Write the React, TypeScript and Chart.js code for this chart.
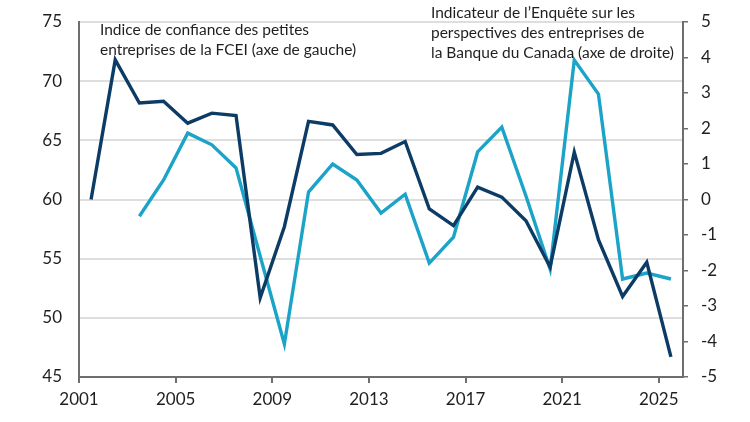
import { useEffect, useRef } from "react"
import { Chart, registerables } from "chart.js"

Chart.register(...registerables)

const years = [
  2001, 2002, 2003, 2004, 2005, 2006, 2007, 2008, 2009, 2010, 2011, 2012, 2013,
  2014, 2015, 2016, 2017, 2018, 2019, 2020, 2021, 2022, 2023, 2024, 2025,
]

// Indice de confiance des petites entreprises de la FCEI (axe de gauche)
const cfibIndex = [
  60.0, 71.8, 68.15, 68.3, 66.45, 67.3, 67.1, 51.7, 57.7, 66.6, 66.3, 63.8, 63.9,
  64.9, 59.2, 57.8, 61.05, 60.2, 58.2, 54.3, 64.0, 56.6, 51.8, 54.7, 46.7,
]

// Indicateur de l'EPE de la Banque du Canada (axe de droite)
const bosIndicator = [
  null, null, -0.47, 0.55, 1.87, 1.54, 0.89, -1.6, -4.07, 0.21, 1.0, 0.55, -0.38,
  0.15, -1.79, -1.06, 1.34, 2.04, 0.1, -1.96, 3.93, 2.97, -2.24, -2.07, -2.24,
]

const xTicks = [2001, 2005, 2009, 2013, 2017, 2021, 2025]

const leftLabel = ["Indice de confiance des petites", "entreprises de la FCEI (axe de gauche)"]
const rightLabel = [
  "Indicateur de l\u2019Enquête sur les",
  "perspectives des entreprises de",
  "la Banque du Canada (axe de droite)",
]

const DARK = "#0c3c66"
const LIGHT = "#1ba3c8"
const AXIS = "#6e6e6e"
const GRID = "#dedede"
const TEXT = "#1f1f1f"
const FONT = "Lato, 'Open Sans', sans-serif"

export default function App() {
  const chartRef = useRef<HTMLCanvasElement>(null)
  const chartInstance = useRef<Chart | null>(null)

  useEffect(() => {
    document.body.style.margin = "0"
    if (!chartRef.current) return
    const ctx = chartRef.current.getContext("2d")
    if (!ctx) return

    const labelsPlugin = {
      id: "seriesLabels",
      afterDraw(chart: Chart) {
        const c = chart.ctx
        c.save()
        c.fillStyle = TEXT
        c.font = `15.5px ${FONT}`
        c.textBaseline = "middle"
        c.textAlign = "left"
        leftLabel.forEach((line, i) => c.fillText(line, 100, 30 + i * 19.5))
        rightLabel.forEach((line, i) => c.fillText(line, 431, 13 + i * 20))
        c.restore()
      },
    }

    // keep the plot area fixed: no extra room for half-labels at the ends
    const noOverflow = (scale: any) => {
      scale.paddingTop = 0
      scale.paddingBottom = 0
    }

    chartInstance.current = new Chart(ctx, {
      type: "line",
      data: {
        datasets: [
          {
            label: "FCEI",
            data: years.map((y, i) => ({ x: y + 0.5, y: cfibIndex[i] })),
            borderColor: DARK,
            borderWidth: 3.4,
            pointRadius: 0,
            tension: 0,
            yAxisID: "y",
          },
          {
            label: "EPE",
            data: years.map((y, i) => ({ x: y + 0.5, y: bosIndicator[i] })),
            borderColor: LIGHT,
            borderWidth: 3.4,
            pointRadius: 0,
            tension: 0,
            yAxisID: "y1",
          },
        ],
      },
      options: {
        responsive: false,
        animation: false,
        layout: { padding: { top: 22 } },
        plugins: {
          legend: { display: false },
          tooltip: { enabled: false },
        },
        scales: {
          x: {
            type: "linear",
            min: 2001,
            max: 2026,
            afterBuildTicks: (scale) => {
              scale.ticks = xTicks.map((v) => ({ value: v }))
            },
            afterFit: (scale) => {
              scale.height = 45
            },
            border: { display: true, color: AXIS, width: 2 },
            grid: {
              drawOnChartArea: false,
              drawTicks: true,
              tickLength: 6,
              color: AXIS,
              lineWidth: 2,
            },
            ticks: {
              color: TEXT,
              font: { family: FONT, size: 17 },
              padding: 6,
              maxRotation: 0,
              callback: (v) => String(v),
            },
          },
          y: {
            position: "left",
            min: 45,
            max: 75,
            afterFit: (scale) => {
              scale.width = 79
              noOverflow(scale)
            },
            border: { display: true, color: AXIS, width: 2 },
            grid: { color: GRID, lineWidth: 2, drawTicks: false },
            ticks: {
              stepSize: 5,
              color: TEXT,
              font: { family: FONT, size: 17 },
              padding: 17,
            },
          },
          y1: {
            position: "right",
            min: -5,
            max: 5,
            afterFit: (scale) => {
              scale.width = 67
              noOverflow(scale)
            },
            border: { display: true, color: AXIS, width: 2 },
            grid: {
              drawOnChartArea: false,
              drawTicks: true,
              tickLength: 5,
              color: AXIS,
              lineWidth: 1.5,
            },
            ticks: {
              stepSize: 1,
              color: TEXT,
              font: { family: FONT, size: 17 },
              padding: 13,
            },
          },
        },
      },
      plugins: [labelsPlugin],
    })

    return () => {
      if (chartInstance.current) {
        chartInstance.current.destroy()
      }
    }
  }, [])

  return (
    <div style={{ width: 750, height: 422, background: "#ffffff" }}>
      <canvas ref={chartRef} width={750} height={422} />
    </div>
  )
}
